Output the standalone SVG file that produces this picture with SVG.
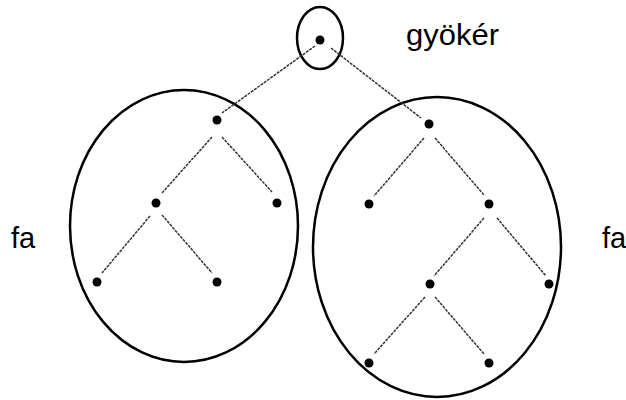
<svg xmlns="http://www.w3.org/2000/svg" width="626" height="400" viewBox="0 0 626 400">
<style>
.dot{fill:#000}
.edge{stroke:#333;stroke-width:1.5;stroke-dasharray:3 1;fill:none}
.ring{fill:none;stroke:#000;stroke-width:2.5}
.lbl{font-family:"Liberation Sans",Arial,sans-serif;font-size:29px;fill:#000}
</style>
<rect width="626" height="400" fill="#fff"/>
<g id="rings">
<ellipse class="ring" cx="320" cy="38" rx="23" ry="31"/>
<ellipse class="ring" cx="184" cy="226" rx="114" ry="136"/>
<ellipse class="ring" cx="437" cy="247" rx="124" ry="150"/>
</g>
<g id="connectors">
<line class="edge" x1="315" y1="46" x2="222" y2="113"/>
<line class="edge" x1="331" y1="48" x2="421" y2="118"/>
<line class="edge" x1="212" y1="137" x2="162" y2="193"/>
<line class="edge" x1="222" y1="137" x2="272" y2="192"/>
<line class="edge" x1="150" y1="216" x2="102" y2="273"/>
<line class="edge" x1="162" y1="215" x2="212" y2="273"/>
<line class="edge" x1="424" y1="138" x2="374" y2="196"/>
<line class="edge" x1="435" y1="138" x2="484" y2="195"/>
<line class="edge" x1="484" y1="218" x2="434" y2="276"/>
<line class="edge" x1="497" y1="218" x2="546" y2="276"/>
<line class="edge" x1="425" y1="297" x2="374" y2="354"/>
<line class="edge" x1="435" y1="297" x2="484" y2="354"/>
</g>
<g id="n-root"><circle class="dot" cx="320" cy="40" r="4.5"/></g>
<g id="n-l"><circle class="dot" cx="217" cy="120" r="4.5"/></g>
<g id="n-ll"><circle class="dot" cx="156" cy="203" r="4.5"/></g>
<g id="n-lr"><circle class="dot" cx="277" cy="203" r="4.5"/></g>
<g id="n-lll"><circle class="dot" cx="97" cy="282" r="4.5"/></g>
<g id="n-llr"><circle class="dot" cx="217" cy="282" r="4.5"/></g>
<g id="n-r"><circle class="dot" cx="429" cy="124" r="4.5"/></g>
<g id="n-rl"><circle class="dot" cx="369" cy="204" r="4.5"/></g>
<g id="n-rr"><circle class="dot" cx="489" cy="204" r="4.5"/></g>
<g id="n-rrl"><circle class="dot" cx="430" cy="284" r="4.5"/></g>
<g id="n-rrr"><circle class="dot" cx="549" cy="284" r="4.5"/></g>
<g id="n-rrll"><circle class="dot" cx="369" cy="363" r="4.5"/></g>
<g id="n-rrlr"><circle class="dot" cx="489" cy="363" r="4.5"/></g>
<g id="labels">
<text class="lbl" x="406" y="45" textLength="93" lengthAdjust="spacingAndGlyphs">gyökér</text>
<text class="lbl" x="11" y="248">fa</text>
<text class="lbl" x="602" y="248">fa</text>
</g>
</svg>
